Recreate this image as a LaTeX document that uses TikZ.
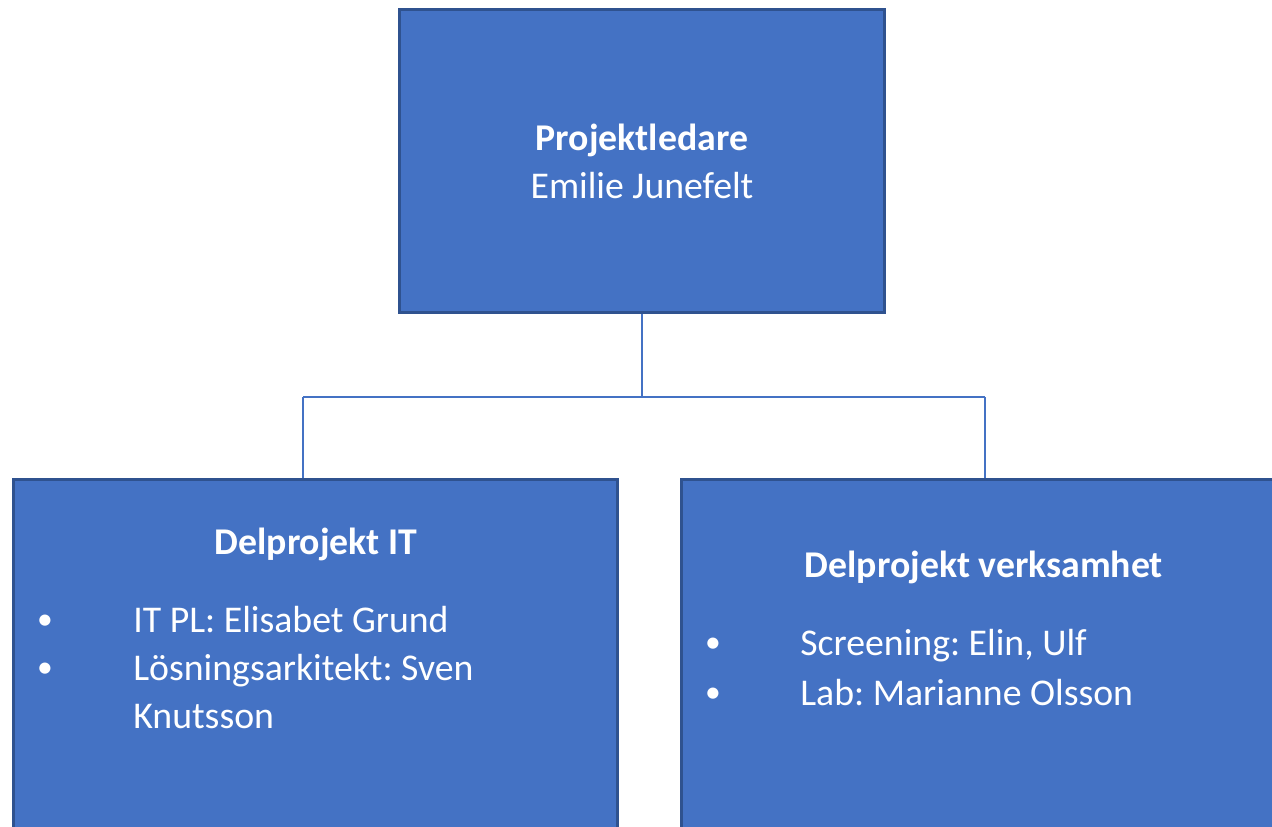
\documentclass[tikz,border=0pt]{standalone}
\usepackage{fontspec}
\setmainfont{Carlito}
\frenchspacing
\definecolor{boxfill}{HTML}{4472C4}
\definecolor{boxline}{HTML}{2F528F}
\begin{document}
\begin{tikzpicture}[x=0.02cm,y=-0.02cm,font=\fontsize{21.5}{27.2}\selectfont,
	box/.style={draw=boxline,line width=1.6pt,fill=boxfill,inner sep=0pt},
	txt/.style={text=white,inner sep=0pt},
	dot/.style={text=white,inner sep=0pt,font=\fontsize{18}{20}\selectfont},
	link/.style={draw=boxfill,line width=0.9pt}]
	\useasboundingbox (0,0) rectangle (1272,827);
	\clip (0,0) rectangle (1272,827);
	% boxes
	\node[box,minimum width=9.7cm,minimum height=6.06cm,text=white,align=center] (lead) at (642,161) {\bfseries Projektledare\\Emilie Junefelt};
	\node[box,minimum width=12.08cm,minimum height=8.41cm] (it) at (315.5,689.75) {};
	\node[box,minimum width=12.37cm,minimum height=8.41cm] (ops) at (990.75,689.75) {};
	% connectors
	\coordinate (jl) at (303,397);
	\coordinate (jr) at (985,397);
	\draw[link] (lead.south) -- (lead.south |- jl);
	\draw[link] (jl) -- (jr);
	\draw[link] (jl) -- (jl |- it.north);
	\draw[link] (jr) -- (jr |- ops.north);
	% texts, left
	\node[txt,anchor=base,font=\fontsize{21.5}{27.2}\selectfont\bfseries] (ithead) at (316,555) {Delprojekt IT};
	\node[dot,anchor=base] (itb1) at (45,629) {•};
	\node[dot,anchor=base] (itb2) at (45,677) {•};
	\node[txt,anchor=base west] (it1) at (133,632) {IT PL: Elisabet Grund};
	\node[txt,anchor=base west] (it2) at (133,680) {Lösningsarkitekt: Sven};
	\node[txt,anchor=base west] (it3) at (133,728) {Knutsson};
	% texts, right
	\node[txt,anchor=base,font=\fontsize{21.5}{27.2}\selectfont\bfseries] (opshead) at (984,578) {Delprojekt verksamhet};
	\node[dot,anchor=base] (opsb1) at (713,652) {•};
	\node[dot,anchor=base] (opsb2) at (713,702) {•};
	\node[txt,anchor=base west] (ops1) at (800,655) {Screening: Elin, Ulf};
	\node[txt,anchor=base west] (ops2) at (800,705) {Lab: Marianne Olsson};
\end{tikzpicture}
\end{document}
